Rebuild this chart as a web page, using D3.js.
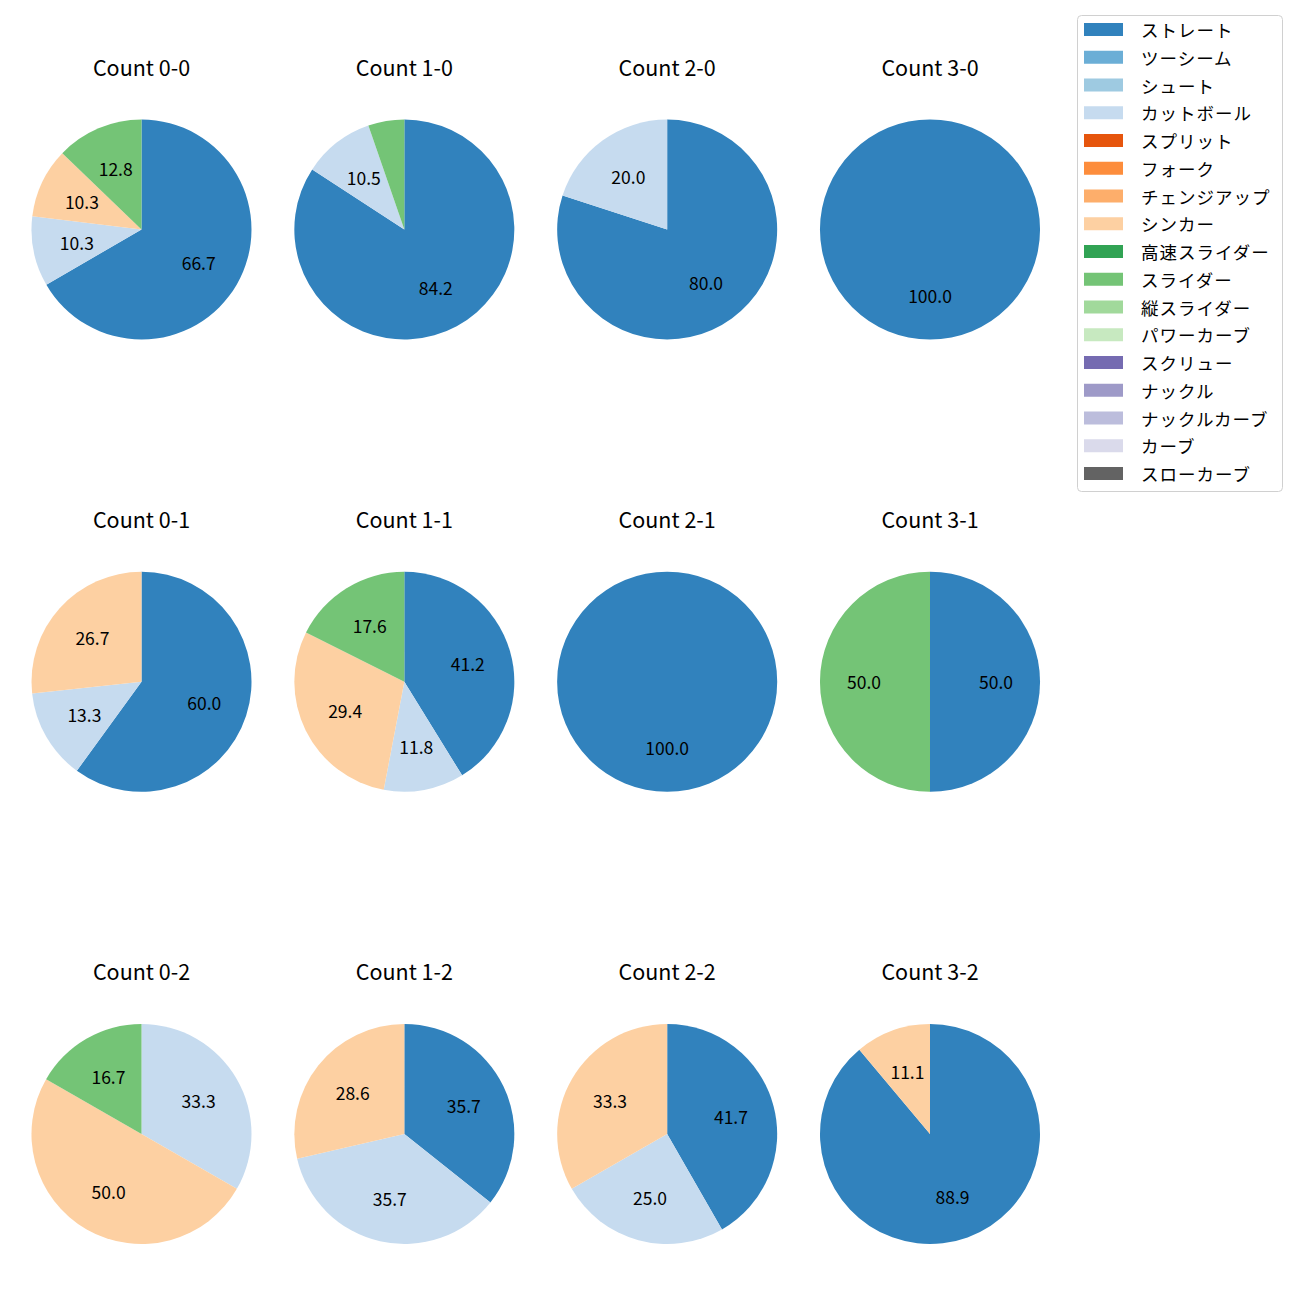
<!DOCTYPE html>
<html><head><meta charset="utf-8">
<script src="https://cdn.jsdelivr.net/npm/d3@7"></script>
<style>body{margin:0;background:#fff}svg{display:block}</style>
</head><body>
<svg id="c" width="1300" height="1300"></svg>
<script>
const pitchTypes = ["ストレート","ツーシーム","シュート","カットボール","スプリット","フォーク","チェンジアップ","シンカー","高速スライダー","スライダー","縦スライダー","パワーカーブ","スクリュー","ナックル","ナックルカーブ","カーブ","スローカーブ"];
const pitchColors = ["#3182bd","#6baed6","#9ecae1","#c6dbef","#e6550d","#fd8d3c","#fdae6b","#fdd0a2","#31a354","#74c476","#a1d99b","#c7e9c0","#756bb1","#9e9ac8","#bcbddc","#dadaeb","#636363"];
const countLabels = ["Count 0-0","Count 1-0","Count 2-0","Count 3-0","Count 0-1","Count 1-1","Count 2-1","Count 3-1","Count 0-2","Count 1-2","Count 2-2","Count 3-2"];
// percentages per count, order: ストレート, カットボール, シンカー, スライダー
const shownTypes = ["ストレート","カットボール","シンカー","スライダー"];
const straight = [66.7, 84.2, 80.0, 100, 60.0, 41.2, 100, 50.0, 0, 35.7, 41.7, 88.9];
const cutter   = [10.3, 10.5, 20.0, 0, 13.3, 11.8, 0, 0, 33.3, 35.7, 25.0, 0];
const sinker   = [10.3, 0, 0, 0, 26.7, 29.4, 0, 0, 50.0, 28.6, 33.3, 11.1];
const slider   = [12.8, 5.3, 0, 0, 0, 17.6, 0, 50.0, 16.7, 0, 0, 0];
const seriesVals = [straight, cutter, sinker, slider];

const svg = d3.select("#c");
const font = "'Noto Sans CJK JP','Noto Sans',sans-serif";
const colX = d3.scalePoint().domain([0,1,2,3]).range([141.5, 930]);
const rowY = d3.scalePoint().domain([0,1,2]).range([229.5, 1134]);
const R = 110;
const color = d3.scaleOrdinal().domain(pitchTypes).range(pitchColors);
const pie = d3.pie().sort(null).value(d => d.v).startAngle(0).endAngle(2*Math.PI);
const arc = d3.arc().innerRadius(0).outerRadius(R);
const labelArc = d3.arc().innerRadius(R*0.6).outerRadius(R*0.6);

countLabels.forEach((title, i) => {
  const col = i % 4, row = Math.floor(i / 4);
  const cx = colX(col), cy = rowY(row);
  const data = shownTypes.map((t, k) => ({t, v: seriesVals[k][i]})).filter(d => d.v > 0);
  const g = svg.append("g").attr("transform", `translate(${cx},${cy})`);
  const arcs = pie(data);
  g.selectAll("path").data(arcs).join("path")
    .attr("d", arc).attr("fill", d => color(d.data.t));
  g.selectAll("text.lbl").data(arcs.filter(d => d.data.v >= 10)).join("text")
    .attr("class","lbl")
    .attr("transform", d => `translate(${labelArc.centroid(d)})`)
    .attr("text-anchor","middle").attr("dominant-baseline","central")
    .attr("font-family", font).attr("font-size", 17.5).attr("fill","#000")
    .text(d => d.data.v.toFixed(1));
  svg.append("text").attr("x", cx).attr("y", cy - 154)
    .attr("text-anchor","middle")
    .attr("font-family", font).attr("font-size", 21.5).attr("fill","#000")
    .text(title);
});

// legend
const lg = svg.append("g");
lg.append("rect").attr("x", 1077.5).attr("y", 15.5).attr("width", 205).attr("height", 476)
  .attr("rx", 4).attr("fill","#fff").attr("stroke","#d0d0d0").attr("stroke-width",1);
const ly = d3.scaleLinear().domain([0, pitchTypes.length - 1]).range([29.5, 473.5]);
pitchTypes.forEach((t, k) => {
  lg.append("rect").attr("x", 1084).attr("y", ly(k) - 6.5).attr("width", 39).attr("height", 13)
    .attr("fill", color(t));
  lg.append("text").attr("x", 1141).attr("y", ly(k)).attr("dominant-baseline","central")
    .attr("font-family", font).attr("font-size", 17.5).attr("fill","#000")
    .attr("letter-spacing", 1)
    .text(t);
});
</script>
</body></html>
